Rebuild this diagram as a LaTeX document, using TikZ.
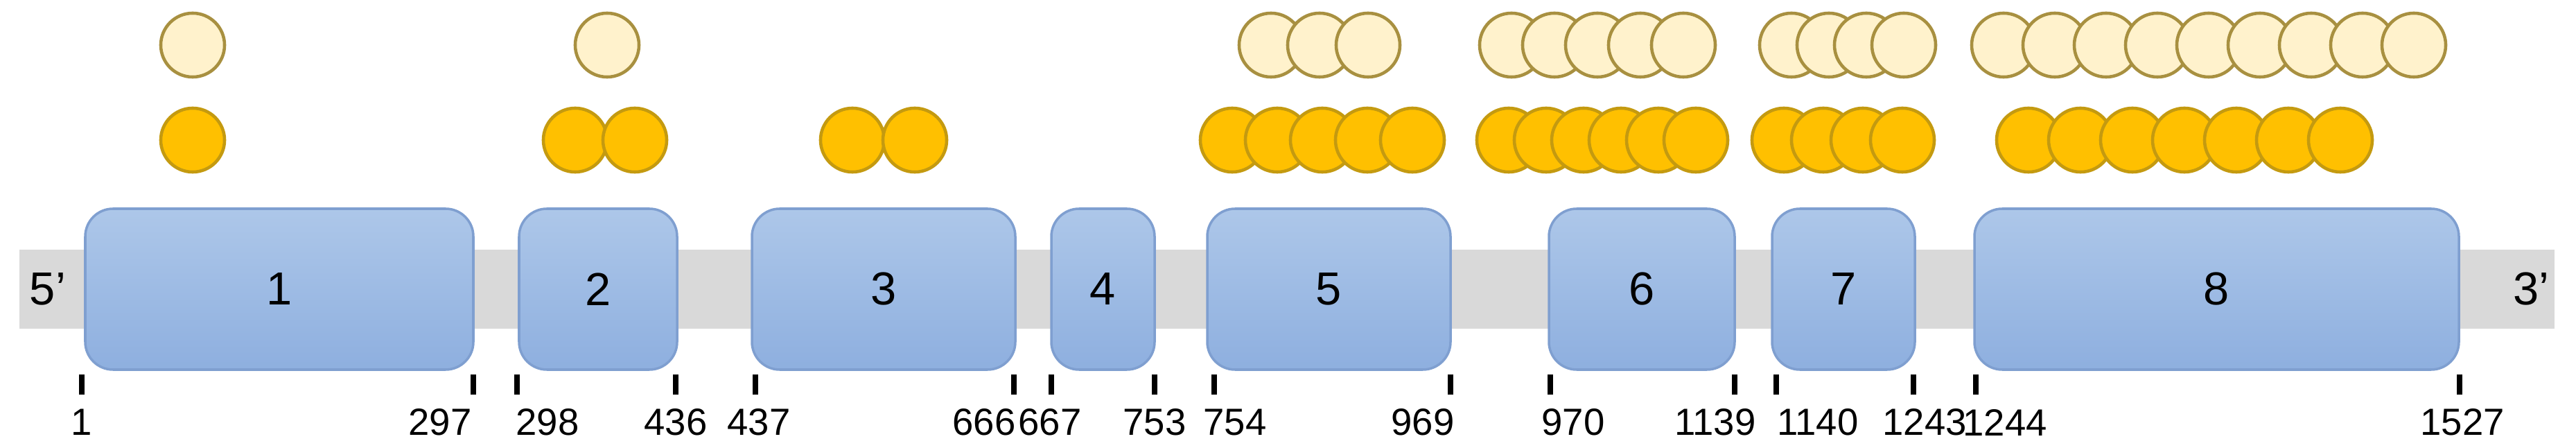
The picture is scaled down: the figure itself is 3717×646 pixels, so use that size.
\documentclass[tikz,border=0pt]{standalone}
\usepackage{fontspec}
\setmainfont{Liberation Sans}
\definecolor{lightfill}{HTML}{FFF2CC}
\definecolor{lightdraw}{HTML}{A89040}
\definecolor{darkfill}{HTML}{FFC000}
\definecolor{darkdraw}{HTML}{C49A10}
\definecolor{boxtop}{HTML}{ADC7E9}
\definecolor{boxbot}{HTML}{8EAFDF}
\definecolor{boxdraw}{HTML}{7F9FD0}
\definecolor{barfill}{HTML}{D9D9D9}
\begin{document}
\begin{tikzpicture}[x=0.01cm,y=-0.01cm,
  exon/.style={draw=boxdraw,line width=1pt,rounded corners=0.4cm,top color=boxtop,bottom color=boxbot},
  lt/.style={circle,draw=lightdraw,fill=lightfill,line width=1.3pt,minimum size=0.92cm,inner sep=0pt},
  dk/.style={circle,draw=darkdraw,fill=darkfill,line width=1.3pt,minimum size=0.92cm,inner sep=0pt},
  tickline/.style={line width=2.2pt},
  poslab/.style={font=\fontsize{15.5}{18}\selectfont},
  big/.style={font=\fontsize{19}{22}\selectfont}]
\useasboundingbox (0,0) rectangle (3717,646);
\fill[barfill] (28,360) rectangle (3686,474);
\node[big] (five) at (69,417) {5'};
\node[big] (three) at (3652,417) {3'};
\foreach \a/\b/\n in {123/683/1,749/977/2,1085/1465/3,1517/1666/4,1742/2093/5,2235/2503/6,2557/2763/7,2849/3548/8}{
  \draw[exon] (\a,301) rectangle (\b,533);
  \node[big] (e\n) at ({(\a+\b)/2},417) {\n};
}
\foreach \t/\l/\lx [count=\i] in {118/1/118,683/297/635,746/298/790,975/436/975,1090/437/1095,1463/666/1420,1517/667/1515,1666/753/1666,1752/754/1782,2093/969/2053,2237/970/2270,2503/1139/2475,2563/1140/2623,2761/1243/2777,2851/1244/2893,3549/1527/3553}{
  \coordinate (ta\i) at (\t,540);
  \coordinate (tb\i) at (\t,569);
  \draw[tickline] (ta\i) -- (tb\i);
  \node[poslab] (lab\i) at (\lx,609) {\l};
}
\node[lt] (l1a) at (278,65) {};
\node[dk] (d1a) at (278,202) {};
\node[lt] (l2a) at (876,65) {};
\foreach \x [count=\i] in {830,916}{\node[dk] (d2\i) at (\x,202) {};}
\foreach \x [count=\i] in {1230,1320}{\node[dk] (d3\i) at (\x,202) {};}
\foreach \k [count=\i] in {0,1,2}{\node[lt] (l5\i) at (1834+70*\k,65) {};}
\foreach \k [count=\i] in {0,1,2,3,4}{\node[dk] (d5\i) at (1778+65*\k,202) {};}
\foreach \k [count=\i] in {0,1,2,3,4}{\node[lt] (l6\i) at (2181+62*\k,65) {};}
\foreach \k [count=\i] in {0,1,2,3,4,5}{\node[dk] (d6\i) at (2177+54*\k,202) {};}
\foreach \k [count=\i] in {0,1,2,3}{\node[lt] (l7\i) at (2585+54*\k,65) {};}
\foreach \k [count=\i] in {0,1,2,3}{\node[dk] (d7\i) at (2574+57*\k,202) {};}
\foreach \k [count=\i] in {0,1,...,8}{\node[lt] (l8\i) at (2891+74*\k,65) {};}
\foreach \k [count=\i] in {0,1,...,6}{\node[dk] (d8\i) at (2927+75*\k,202) {};}
\end{tikzpicture}
\end{document}
